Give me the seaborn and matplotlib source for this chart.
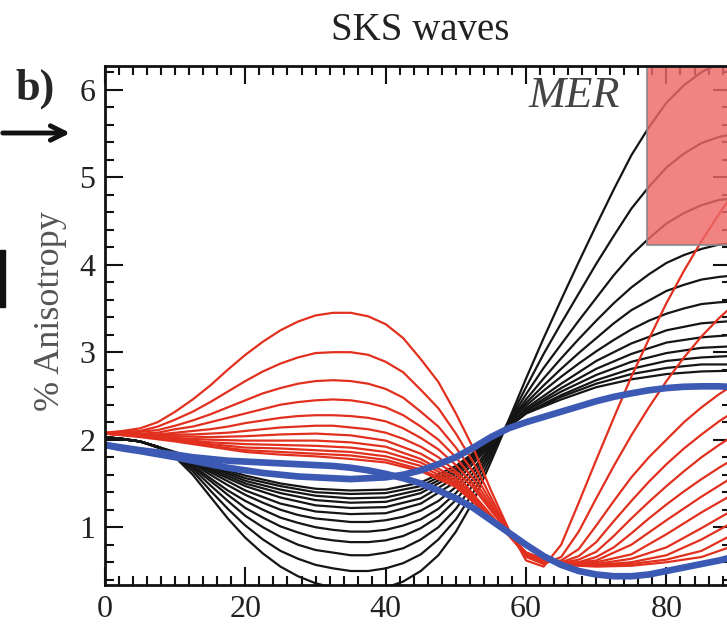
import matplotlib
matplotlib.use('Agg')
import matplotlib.pyplot as plt
import pandas as pd
import seaborn as sns
from matplotlib.patches import Rectangle
from matplotlib.ticker import MultipleLocator

sns.set_theme(style='ticks')
plt.rcParams['font.family'] = ['Liberation Serif', 'DejaVu Serif']

#%% values
# azimuth grids: fine one for the wide curves, coarse one for the flat inner curves
azimuth_fine = [0, 2.5, 5, 7.5, 10, 12.5, 15, 17.5, 20, 22.5, 25, 27.5, 30, 32.5, 35, 37.5, 40, 42.5,
                45, 47.5, 50, 52.5, 55, 57.5, 60, 62.5, 65, 67.5, 70, 72.5, 75, 77.5, 80, 82.5, 85, 87.5, 90]
azimuth_coarse = [0, 5, 10, 15, 20, 25, 30, 35, 40, 45, 50, 55, 60, 65, 70, 75, 80, 85, 90]

# thick blue curves (fine grid)
blue_a = [1.94, 1.91, 1.88, 1.855, 1.83, 1.80, 1.78, 1.76, 1.75, 1.74, 1.73, 1.72, 1.71, 1.70, 1.68, 1.65, 1.61, 1.56,
          1.50, 1.42, 1.33, 1.22, 1.08, 0.94, 0.80, 0.67, 0.57, 0.50, 0.46, 0.44, 0.44, 0.46, 0.50, 0.54, 0.58, 0.62, 0.67]
blue_b = [1.94, 1.90, 1.87, 1.835, 1.80, 1.76, 1.72, 1.68, 1.65, 1.62, 1.60, 1.58, 1.57, 1.56, 1.55, 1.56, 1.57, 1.60,
          1.65, 1.72, 1.80, 1.91, 2.03, 2.13, 2.20, 2.26, 2.32, 2.38, 2.44, 2.49, 2.53, 2.565, 2.59, 2.605, 2.61, 2.61, 2.60]

# red family, outer curves (fine grid)
red_outer = [
    [2.08, 2.10, 2.13, 2.20, 2.32, 2.46, 2.62, 2.80, 2.97, 3.12, 3.25, 3.35, 3.42, 3.45, 3.45, 3.41, 3.32, 3.16,
     2.92, 2.66, 2.30, 1.90, 1.42, 0.98, 0.62, 0.55, 0.80, 1.28, 1.77, 2.25, 2.72, 3.15, 3.56, 3.93, 4.27, 4.58, 4.87],
    [2.08, 2.09, 2.10, 2.15, 2.23, 2.32, 2.43, 2.55, 2.67, 2.78, 2.87, 2.94, 2.99, 3.00, 3.00, 2.97, 2.89, 2.77,
     2.57, 2.36, 2.07, 1.74, 1.34, 0.96, 0.66, 0.58, 0.66, 0.95, 1.33, 1.70, 2.05, 2.37, 2.67, 2.94, 3.18, 3.39, 3.57],
    [2.08, 2.08, 2.09, 2.11, 2.16, 2.22, 2.29, 2.37, 2.45, 2.53, 2.59, 2.64, 2.67, 2.68, 2.67, 2.64, 2.58, 2.48,
     2.32, 2.15, 1.91, 1.63, 1.29, 0.95, 0.68, 0.60, 0.62, 0.75, 1.02, 1.30, 1.57, 1.80, 2.00, 2.20, 2.37, 2.52, 2.65],
    [2.07, 2.07, 2.07, 2.08, 2.12, 2.15, 2.20, 2.25, 2.30, 2.35, 2.40, 2.43, 2.45, 2.46, 2.45, 2.42, 2.37, 2.28,
     2.15, 2.00, 1.80, 1.55, 1.25, 0.95, 0.69, 0.61, 0.60, 0.67, 0.83, 1.07, 1.30, 1.52, 1.72, 1.90, 2.06, 2.21, 2.34],
    [2.07, 2.07, 2.06, 2.06, 2.08, 2.10, 2.12, 2.15, 2.19, 2.22, 2.25, 2.27, 2.28, 2.28, 2.27, 2.25, 2.21, 2.13,
     2.02, 1.89, 1.71, 1.49, 1.22, 0.94, 0.70, 0.62, 0.59, 0.63, 0.72, 0.90, 1.10, 1.29, 1.47, 1.64, 1.80, 1.94, 2.07],
    [2.07, 2.06, 2.05, 2.05, 2.06, 2.06, 2.07, 2.08, 2.10, 2.12, 2.14, 2.15, 2.16, 2.16, 2.14, 2.12, 2.08, 2.01,
     1.92, 1.80, 1.64, 1.45, 1.19, 0.94, 0.71, 0.62, 0.59, 0.60, 0.66, 0.77, 0.93, 1.10, 1.26, 1.41, 1.55, 1.68, 1.80],
]
# red family, inner curves (coarse grid)
red_inner = [
    [2.07, 2.05, 2.04, 2.03, 2.04, 2.06, 2.07, 2.05, 1.99, 1.84, 1.61, 1.14, 0.68, 0.58, 0.62, 0.80, 1.08, 1.35, 1.60],
    [2.07, 2.05, 2.02, 2.00, 1.99, 1.99, 1.99, 1.97, 1.92, 1.78, 1.56, 1.13, 0.69, 0.58, 0.60, 0.69, 0.92, 1.17, 1.40],
    [2.07, 2.04, 2.01, 1.97, 1.95, 1.94, 1.93, 1.91, 1.86, 1.74, 1.53, 1.12, 0.70, 0.58, 0.58, 0.64, 0.77, 0.99, 1.22],
    [2.07, 2.04, 2.00, 1.95, 1.91, 1.90, 1.88, 1.86, 1.81, 1.70, 1.50, 1.12, 0.70, 0.57, 0.57, 0.60, 0.68, 0.86, 1.08],
    [2.07, 2.04, 1.99, 1.93, 1.88, 1.86, 1.84, 1.82, 1.77, 1.66, 1.48, 1.11, 0.71, 0.57, 0.56, 0.58, 0.63, 0.73, 0.94],
    [2.07, 2.03, 1.98, 1.92, 1.86, 1.83, 1.81, 1.78, 1.74, 1.64, 1.46, 1.11, 0.71, 0.57, 0.55, 0.56, 0.60, 0.66, 0.80],
]

# black family, outer curves (fine grid)
black_outer = [
    [2.03, 2.01, 1.98, 1.92, 1.80, 1.60, 1.35, 1.10, 0.88, 0.70, 0.55, 0.44, 0.36, 0.31, 0.28, 0.28, 0.31, 0.38,
     0.50, 0.68, 0.95, 1.30, 1.75, 2.22, 2.70, 3.16, 3.60, 4.03, 4.45, 4.86, 5.25, 5.57, 5.85, 6.05, 6.20, 6.30, 6.35],
    [2.03, 2.01, 1.98, 1.92, 1.81, 1.64, 1.42, 1.21, 1.02, 0.86, 0.73, 0.64, 0.57, 0.53, 0.50, 0.50, 0.53, 0.59,
     0.69, 0.86, 1.09, 1.40, 1.80, 2.21, 2.60, 2.98, 3.33, 3.67, 4.01, 4.33, 4.64, 4.89, 5.11, 5.27, 5.39, 5.46, 5.50],
    [2.03, 2.01, 1.98, 1.92, 1.82, 1.67, 1.48, 1.30, 1.13, 1.00, 0.89, 0.80, 0.74, 0.71, 0.68, 0.68, 0.71, 0.76,
     0.86, 1.00, 1.21, 1.49, 1.84, 2.20, 2.52, 2.82, 3.09, 3.36, 3.62, 3.88, 4.11, 4.30, 4.47, 4.59, 4.68, 4.74, 4.76],
    [2.03, 2.01, 1.98, 1.92, 1.83, 1.69, 1.53, 1.37, 1.22, 1.11, 1.01, 0.94, 0.88, 0.85, 0.83, 0.83, 0.85, 0.90,
     0.99, 1.12, 1.31, 1.56, 1.87, 2.19, 2.46, 2.70, 2.93, 3.15, 3.36, 3.56, 3.74, 3.89, 4.02, 4.11, 4.18, 4.23, 4.25],
    [2.03, 2.01, 1.98, 1.92, 1.83, 1.71, 1.56, 1.42, 1.30, 1.20, 1.11, 1.05, 1.00, 0.97, 0.95, 0.95, 0.97, 1.02,
     1.09, 1.21, 1.39, 1.62, 1.90, 2.19, 2.42, 2.62, 2.81, 2.99, 3.16, 3.33, 3.48, 3.59, 3.70, 3.77, 3.83, 3.86, 3.88],
    [2.03, 2.01, 1.98, 1.92, 1.84, 1.73, 1.60, 1.48, 1.37, 1.28, 1.20, 1.14, 1.10, 1.08, 1.06, 1.06, 1.08, 1.12,
     1.19, 1.30, 1.46, 1.67, 1.92, 2.18, 2.39, 2.56, 2.72, 2.87, 3.01, 3.14, 3.26, 3.36, 3.44, 3.50, 3.55, 3.57, 3.58],
]
# black family, inner curves (coarse grid)
black_inner = [
    [2.03, 1.98, 1.84, 1.63, 1.42, 1.27, 1.18, 1.15, 1.16, 1.27, 1.52, 1.94, 2.36, 2.64, 2.90, 3.10, 3.25, 3.33, 3.36],
    [2.03, 1.98, 1.85, 1.65, 1.47, 1.34, 1.25, 1.22, 1.23, 1.33, 1.57, 1.96, 2.34, 2.59, 2.81, 2.98, 3.11, 3.17, 3.20],
    [2.03, 1.98, 1.85, 1.67, 1.50, 1.39, 1.31, 1.28, 1.29, 1.39, 1.61, 1.97, 2.33, 2.55, 2.74, 2.89, 2.99, 3.05, 3.07],
    [2.03, 1.98, 1.85, 1.69, 1.53, 1.43, 1.36, 1.33, 1.34, 1.43, 1.64, 1.98, 2.31, 2.51, 2.68, 2.81, 2.90, 2.94, 2.96],
    [2.03, 1.98, 1.85, 1.70, 1.56, 1.47, 1.40, 1.38, 1.39, 1.47, 1.67, 1.99, 2.30, 2.49, 2.64, 2.75, 2.82, 2.86, 2.86],
    [2.03, 1.98, 1.86, 1.71, 1.59, 1.50, 1.44, 1.42, 1.43, 1.51, 1.70, 2.00, 2.30, 2.46, 2.60, 2.69, 2.75, 2.78, 2.79],
]

# shaded box in the upper right corner (x from, y from)
box_x0, box_y0 = 77.2, 4.22


def long_form(curves, grid, start=0):
    rows = []
    for i, ys in enumerate(curves):
        for xv, yv in zip(grid, ys):
            rows.append((start + i, xv, yv))
    return pd.DataFrame(rows, columns=['curve', 'x', 'y'])


df_black = pd.concat([long_form(black_outer, azimuth_fine),
                      long_form(black_inner, azimuth_coarse, start=len(black_outer))])
df_red = pd.concat([long_form(red_outer, azimuth_fine),
                    long_form(red_inner, azimuth_coarse, start=len(red_outer))])
df_blue = long_form([blue_a, blue_b], azimuth_fine)

#%% figure
fig = plt.figure(figsize=(7.27, 6.32), dpi=100)
ax = fig.add_axes([105/727, 47/632, 626/727, 519/632])

sns.lineplot(data=df_black, x='x', y='y', units='curve', estimator=None, sort=False,
             color='#151515', lw=1.6, legend=False, ax=ax)
sns.lineplot(data=df_red, x='x', y='y', units='curve', estimator=None, sort=False,
             color='#e2301f', lw=1.6, legend=False, ax=ax)
sns.lineplot(data=df_blue, x='x', y='y', units='curve', estimator=None, sort=False,
             color='#3c5ab4', lw=4.8, legend=False, ax=ax)

ax.add_patch(Rectangle((box_x0, box_y0), 30, 3, facecolor='#ee6868', edgecolor='#888888',
                       lw=1.5, alpha=0.82, zorder=3))

ax.set_xlim(0, 89.2)
ax.set_ylim(0.34, 6.27)
ax.xaxis.set_major_locator(MultipleLocator(20))
ax.xaxis.set_minor_locator(MultipleLocator(2))
ax.yaxis.set_major_locator(MultipleLocator(1))
ax.yaxis.set_minor_locator(MultipleLocator(0.2))
ax.tick_params(which='both', direction='in', top=True, right=True, width=1.5,
               color='#111111', labelsize=23, labelcolor='#222222')
ax.tick_params(which='major', length=13, pad=7)
ax.tick_params(which='minor', length=6.5)
for sp in ax.spines.values():
    sp.set_linewidth(2)
    sp.set_color('#111111')
    sp.set_zorder(6)

ax.set_xlabel('')
ax.set_ylabel('% Anisotropy', fontsize=26, color='#555555')
ax.yaxis.set_label_coords(-0.06, 0.528)

ax.text(73.4, 5.93, 'MER', style='italic', fontsize=32, color='#444444', ha='right', va='center')

fig.text(0.578, 0.952, 'SKS waves', ha='center', va='center', fontsize=28, color='#222222')
fig.text(15/727, 1 - 89/632, 'b)', ha='left', va='center', fontsize=32, fontweight='bold')

# bits of the neighbouring panel
ax.annotate('', xy=(73/727, 1 - 133/632), xytext=(0, 1 - 133/632),
            xycoords='figure fraction', textcoords='figure fraction',
            arrowprops=dict(arrowstyle='->', lw=3.5, color='#111111', mutation_scale=26))
fig.patches.append(Rectangle((0, 1 - 307/632), 5/727, 57/632, transform=fig.transFigure,
                             color='#111111'))

fig.savefig('out.png', dpi=100)
